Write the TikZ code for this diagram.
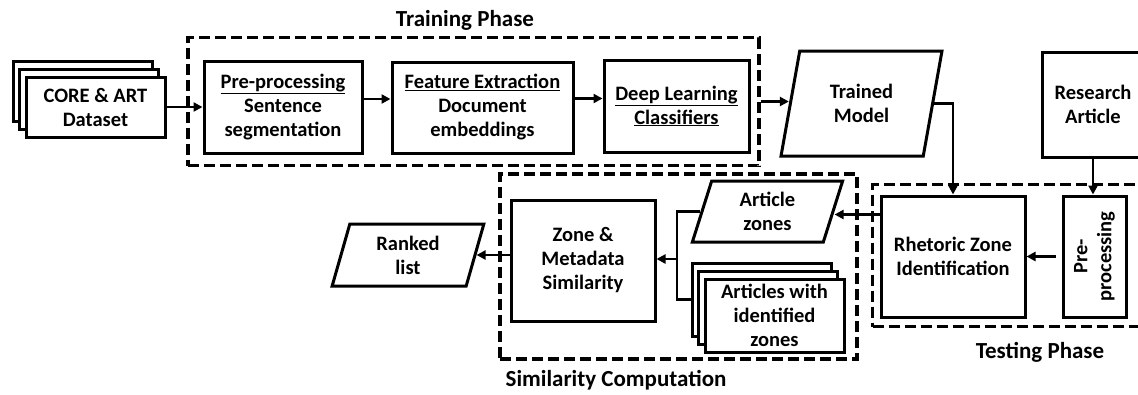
\documentclass[tikz,border=0pt]{standalone}
\usepackage{fontspec}
\setmainfont{Carlito}
\usetikzlibrary{shapes.geometric,shadows,arrows.meta}
\begin{document}
\begin{tikzpicture}[x=1pt, y=-1pt, line width=2.8pt, >={Triangle[length=9pt,width=9pt]},
    every node/.style={font=\fontsize{20.5}{24}\selectfont\bfseries, align=center, inner sep=0pt},
    box/.style={draw, line width=3pt, fill=white},
    stack/.style={box, double copy shadow={shadow xshift=-6.5pt, shadow yshift=8pt}},
    data/.style={draw, line width=3pt, trapezium, trapezium left angle=76, trapezium right angle=104, trapezium stretches=true},
    frame/.style={draw, dash pattern=on 11pt off 5pt, line width=3.2pt},
    phase/.style={font=\fontsize{23}{28}\selectfont\bfseries}]
        \clip (0,0) rectangle (1138,394);
        \node[frame, minimum width=571pt, minimum height=128pt] (training) at (473.5,101.5) {};
        \node[phase] (trainlbl) at (465,20) {Training Phase};
        \node[frame, minimum width=300pt, minimum height=142pt, anchor=north west] (testing) at (871,183) {};
        \node[phase] (testlbl) at (1040,352) {Testing Phase};
        \node[frame, minimum width=357pt, minimum height=185pt] (simil) at (678.5,266.5) {};
        \node[phase] (simlbl) at (616,380) {Similarity Computation};
        \node[stack, minimum width=139pt, minimum height=60pt] (core) at (95.5,107) {CORE \& ART\\Dataset};
        \node[box, minimum width=158pt, minimum height=92pt] (prep) at (283,107) {\underline{Pre-processing}\\Sentence\\segmentation};
        \node[box, minimum width=181pt, minimum height=91pt] (feat) at (482.5,107.5) {\underline{Feature Extraction}\\Document\\embeddings};
        \node[box, minimum width=145pt, minimum height=92pt] (deep) at (676.5,106) {\underline{Deep Learning}\\\underline{Classifiers}};
        \node[data, minimum width=161pt, minimum height=105pt] (trained) at (861.5,103.5) {Trained\\Model};
        \node[box, minimum width=102pt, minimum height=105pt] (article) at (1093,104.5) {Research\\Article};
        \node[box, minimum width=144pt, minimum height=121pt] (rzi) at (953,256.5) {Rhetoric Zone\\Identification};
        \node[box, rotate=90, minimum width=121pt, minimum height=63pt] (prep2) at (1094.5,256.5) {Pre-\\processing};
        \node[box, minimum width=144pt, minimum height=121pt] (zms) at (583,260.5) {Zone \&\\Metadata\\Similarity};
        \node[data, minimum width=151pt, minimum height=61pt] (zones) at (767.5,211.5) {Article\\zones};
        \node[stack, minimum width=139pt, minimum height=73pt] (idzones) at (774.5,315.5) {Articles with\\identified\\zones};
        \node[data, minimum width=152pt, minimum height=62pt] (ranked) at (408,255) {Ranked\\list};
        \coordinate (bus) at (677,259);
        \draw[->] (core) -- (prep);
        \draw[->] ([yshift=8pt]prep.east) -- ([yshift=8pt]prep.east -| feat.west);
        \draw[->] ([yshift=9pt]feat.east) -- ([yshift=9pt]feat.east -| deep.west);
        \draw[->] (training.east) -- (training.east -| trained.west);
        \draw[->] (trained.east) -| (rzi.north);
        \draw[->] (article.south) -- (article.south |- prep2.east);
        \draw[->, shorten <=6pt] (prep2.north) -- (prep2.north -| rzi.east);
        \draw[->] ([yshift=-3pt]rzi.west |- zones.east) -- ([yshift=-3pt]zones.east);
        \draw (zones.west) -| (bus) |- ([xshift=-13pt,yshift=16pt]idzones.west);
        \draw[->] (bus) -- (bus -| zms.east);
        \draw[->] (zms.west |- ranked.east) -- (ranked.east);
\end{tikzpicture}
\end{document}
